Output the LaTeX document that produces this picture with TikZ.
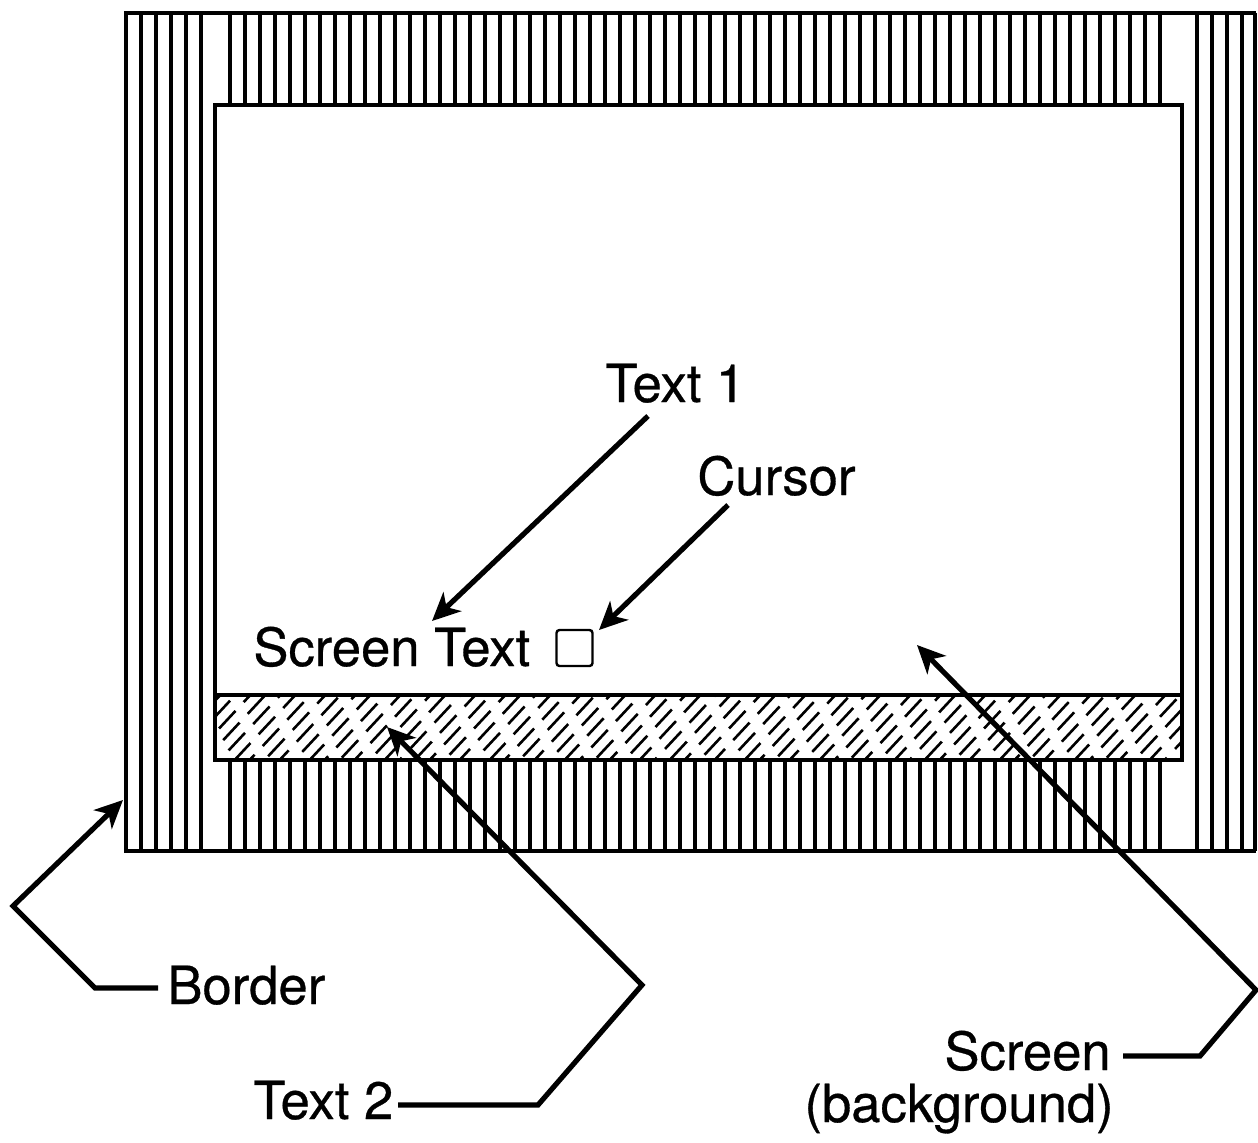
\documentclass[tikz,border=0pt]{standalone}
\usepackage{fontspec}
\setmainfont[FakeBold=0.6]{TeX Gyre Heros}
\usetikzlibrary{arrows.meta}
\begin{document}
\begin{tikzpicture}[x=0.5pt,y=-0.5pt,
  stripe/.style={line width=2.2pt},
  frameline/.style={line width=2.4pt},
  hatchline/.style={line width=1.3pt,dash pattern=on 12pt off 6pt},
  lbl/.style={inner sep=0pt,font=\fontsize{26.3}{31}\selectfont},
  pointer/.style={line width=2.6pt,line join=miter,-{Stealth[length=14pt,width=13pt,inset=4pt]}},
  leader/.style={line width=2.6pt,line join=miter}]
\useasboundingbox (0,0) rectangle (1258,1142);
% ---- border stripes ----
\foreach \x in {141,156,...,201} \draw[stripe] (\x,13) -- (\x,851);
\foreach \x in {230,245,...,1170} {
  \draw[stripe] (\x,13) -- (\x,105);
  \draw[stripe] (\x,760) -- (\x,851);
}
\foreach \x in {1197,1212,...,1242} \draw[stripe] (\x,13) -- (\x,851);
\draw[stripe] (1255,13) -- (1255,851);
% outer frame
\draw[frameline] (1256,13) -- (126,13) -- (126,851) -- (1256,851);
% screen
\draw[frameline,fill=white] (215,105) rectangle (1182,695);
% text-2 hatched bar
\begin{scope}
  \clip (215,695) rectangle (1182,760);
  \foreach \c [count=\i] in {140,155,...,1190} {
    \pgfmathsetmacro{\ph}{mod(\i*7,17)}
    \draw[hatchline,dash phase=\ph pt] (\c,765) -- (\c+70,690);
  }
\end{scope}
\draw[frameline] (215,695) rectangle (1182,760);
% ---- labels ----
\node[lbl,anchor=base west] (text1) at (605,402) {Text 1};
\node[lbl,anchor=base west] (cursorlbl) at (697,495) {Cursor};
\node[lbl,anchor=base west] (scrtext) at (253,666) {Screen Text};
\node[draw,line width=1.2pt,rounded corners=1.5pt,minimum width=18pt,minimum height=18pt,inner sep=0pt] (cursorbox) at (574.5,648) {};
\node[lbl,anchor=base west] (border) at (167,1004) {Border};
\node[lbl,anchor=base west] (text2) at (253,1119) {Text 2};
\node[lbl,anchor=base east] (screen) at (1111,1070) {Screen};
\node[lbl,anchor=base east] (backgr) at (1114,1122) {(background)};
% ---- coordinates ----
\coordinate (t1s) at (648,416);
\coordinate (t1e) at (432,621);
\coordinate (cus) at (728,505);
\coordinate (cue) at (599,630);
\coordinate (bos) at (158,988);
\coordinate (bo1) at (95,988);
\coordinate (bo2) at (13,906);
\coordinate (boe) at (123,800);
\coordinate (t2s) at (398,1105);
\coordinate (t21) at (538,1105);
\coordinate (t22) at (642,985);
\coordinate (t2e) at (387,727);
\coordinate (scs) at (1123,1056);
\coordinate (sc1) at (1200,1056);
\coordinate (sc2) at (1256,990);
\coordinate (sce) at (917,645);
% ---- connectors ----
\draw[pointer] (t1s) -- (t1e);
\draw[pointer] (cus) -- (cue);
\draw[pointer] (bos) -- (bo1) -- (bo2) -- (boe);
\draw[pointer] (t2s) -- (t21) -- (t22) -- (t2e);
\draw[pointer] (scs) -- (sc1) -- (sc2) -- (sce);
\end{tikzpicture}
\end{document}
